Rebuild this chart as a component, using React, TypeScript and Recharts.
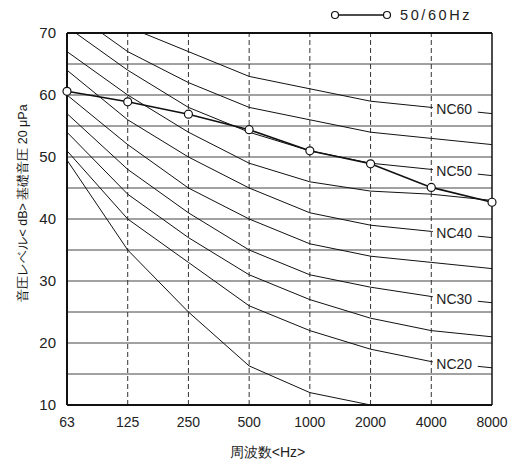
import { LineChart, Line, XAxis, YAxis, CartesianGrid, ReferenceLine, LabelList } from "recharts"

// octave band centre frequencies
const freqs = ["63", "125", "250", "500", "1000", "2000", "4000", "8000"]

// measured level, 50/60Hz
const measured = [60.6, 58.9, 56.9, 54.4, 51.0, 48.9, 45.1, 42.7]

// NC curves
const nc15 = [49.5, 35, 25, 16.3, 12, 10, null, null]
const nc20 = [51, 40, 33, 26, 22, 19, 17, 16]
const nc25 = [54, 44, 37, 31, 27, 24, 22, 21]
const nc30 = [57, 48, 41, 35, 31, 29, 27.5, 26.5]
const nc35 = [60, 52, 45, 40, 36, 34, 33, 32]
const nc40 = [64, 56, 50, 45, 41, 39, 38, 37]
const nc45 = [67, 60, 54, 49, 46, 44.5, 44, 43]
const nc50 = [71, 64, 58, 54, 51, 49, 48, 47]
const nc55 = [74, 67, 62, 58, 56, 54, 53, 52]
const nc60 = [77, 71, 67, 63, 61, 59, 58, 57]

const yTicks = [10, 15, 20, 25, 30, 35, 40, 45, 50, 55, 60, 65, 70]

const data = freqs.map((f, i) => ({
  freq: f,
  measured: measured[i],
  nc15: nc15[i],
  nc20: nc20[i],
  nc25: nc25[i],
  nc30: nc30[i],
  nc35: nc35[i],
  nc40: nc40[i],
  nc45: nc45[i],
  nc50: nc50[i],
  nc55: nc55[i],
  nc60: nc60[i],
}))

const curves = [
  { key: "nc15" },
  { key: "nc20", label: "NC20" },
  { key: "nc25" },
  { key: "nc30", label: "NC30" },
  { key: "nc35" },
  { key: "nc40", label: "NC40" },
  { key: "nc45" },
  { key: "nc50", label: "NC50" },
  { key: "nc55" },
  { key: "nc60", label: "NC60" },
]

const font = "'Liberation Sans', Arial, sans-serif"

const ncLabel = (text: string) => (p: any) => {
  if (p.index !== 6) return null
  const x = Number(p.x)
  const y = Number(p.y)
  return (
    <g>
      <rect x={x + 1.5} y={y - 7} width={45} height={15} fill="#fff" />
      <text x={x + 5} y={y + 2} dominantBaseline="central" fontSize={14} fill="#222" fontFamily={font}>
        {text}
      </text>
    </g>
  )
}

export default function App() {
  return (
    <div style={{ position: "absolute", left: 0, top: 0, width: 516, height: 463, background: "#fff" }}>
      <LineChart width={516} height={463} data={data} margin={{ top: 33, right: 24, left: 0, bottom: 28 }}>
        <CartesianGrid vertical={false} stroke="#444" strokeWidth={1} />
        {freqs.slice(1, 7).map((f) => (
          <ReferenceLine key={f} x={f} stroke="#333" strokeDasharray="5 3" strokeWidth={1} />
        ))}
        <ReferenceLine y={70} stroke="#111" strokeWidth={2} />
        <ReferenceLine x="8000" stroke="#111" strokeWidth={1.5} />
        <XAxis
          dataKey="freq"
          height={30}
          axisLine={{ stroke: "#111", strokeWidth: 2 }}
          tickLine={false}
          tick={{ fontSize: 14, fill: "#222", fontFamily: font }}
          tickMargin={6}
          interval={0}
          label={{ value: "周波数<Hz>", position: "insideBottom", offset: -22, dx: -12, fontSize: 14, fill: "#222", fontFamily: font }}
        />
        <YAxis
          width={67}
          domain={[10, 70]}
          ticks={yTicks}
          allowDataOverflow
          interval={0}
          axisLine={{ stroke: "#111", strokeWidth: 2 }}
          tickLine={false}
          tickMargin={5}
          tick={{ fontSize: 15, fill: "#222", fontFamily: font }}
          tickFormatter={(v: number) => (v % 10 === 0 ? String(v) : "")}
        />
        {curves.map((c) => (
          <Line
            key={c.key}
            dataKey={c.key}
            type="linear"
            stroke="#111"
            strokeWidth={1}
            dot={false}
            activeDot={false}
            connectNulls={false}
            isAnimationActive={false}
          >
            {c.label ? <LabelList dataKey={c.key} content={ncLabel(c.label)} /> : null}
          </Line>
        ))}
        <Line
          dataKey="measured"
          type="linear"
          stroke="#111"
          strokeWidth={1.6}
          dot={{ r: 4, fill: "#fff", stroke: "#111", strokeWidth: 1.2 }}
          activeDot={false}
          isAnimationActive={false}
        />
      </LineChart>
      <svg style={{ position: "absolute", left: 0, top: 0, pointerEvents: "none" }} width={516} height={463}>
        <text
          x={23}
          y={203}
          transform="rotate(-90 23 203)"
          textAnchor="middle"
          dominantBaseline="central"
          fontSize={12.5}
          fill="#1a1a1a"
          fontFamily={font}
        >
          音圧レベル&lt; dB&gt; 基礎音圧 20 μPa
        </text>
        <line x1={335} y1={15} x2={387} y2={15} stroke="#111" strokeWidth={1.4} />
        <circle cx={335} cy={15} r={3.5} fill="#fff" stroke="#111" strokeWidth={1.2} />
        <circle cx={387} cy={15} r={3.5} fill="#fff" stroke="#111" strokeWidth={1.2} />
        <text x={400} y={15} dominantBaseline="central" fontSize={14.5} letterSpacing={2.6} fill="#222" fontFamily={font}>
          50/60Hz
        </text>
      </svg>
    </div>
  )
}
